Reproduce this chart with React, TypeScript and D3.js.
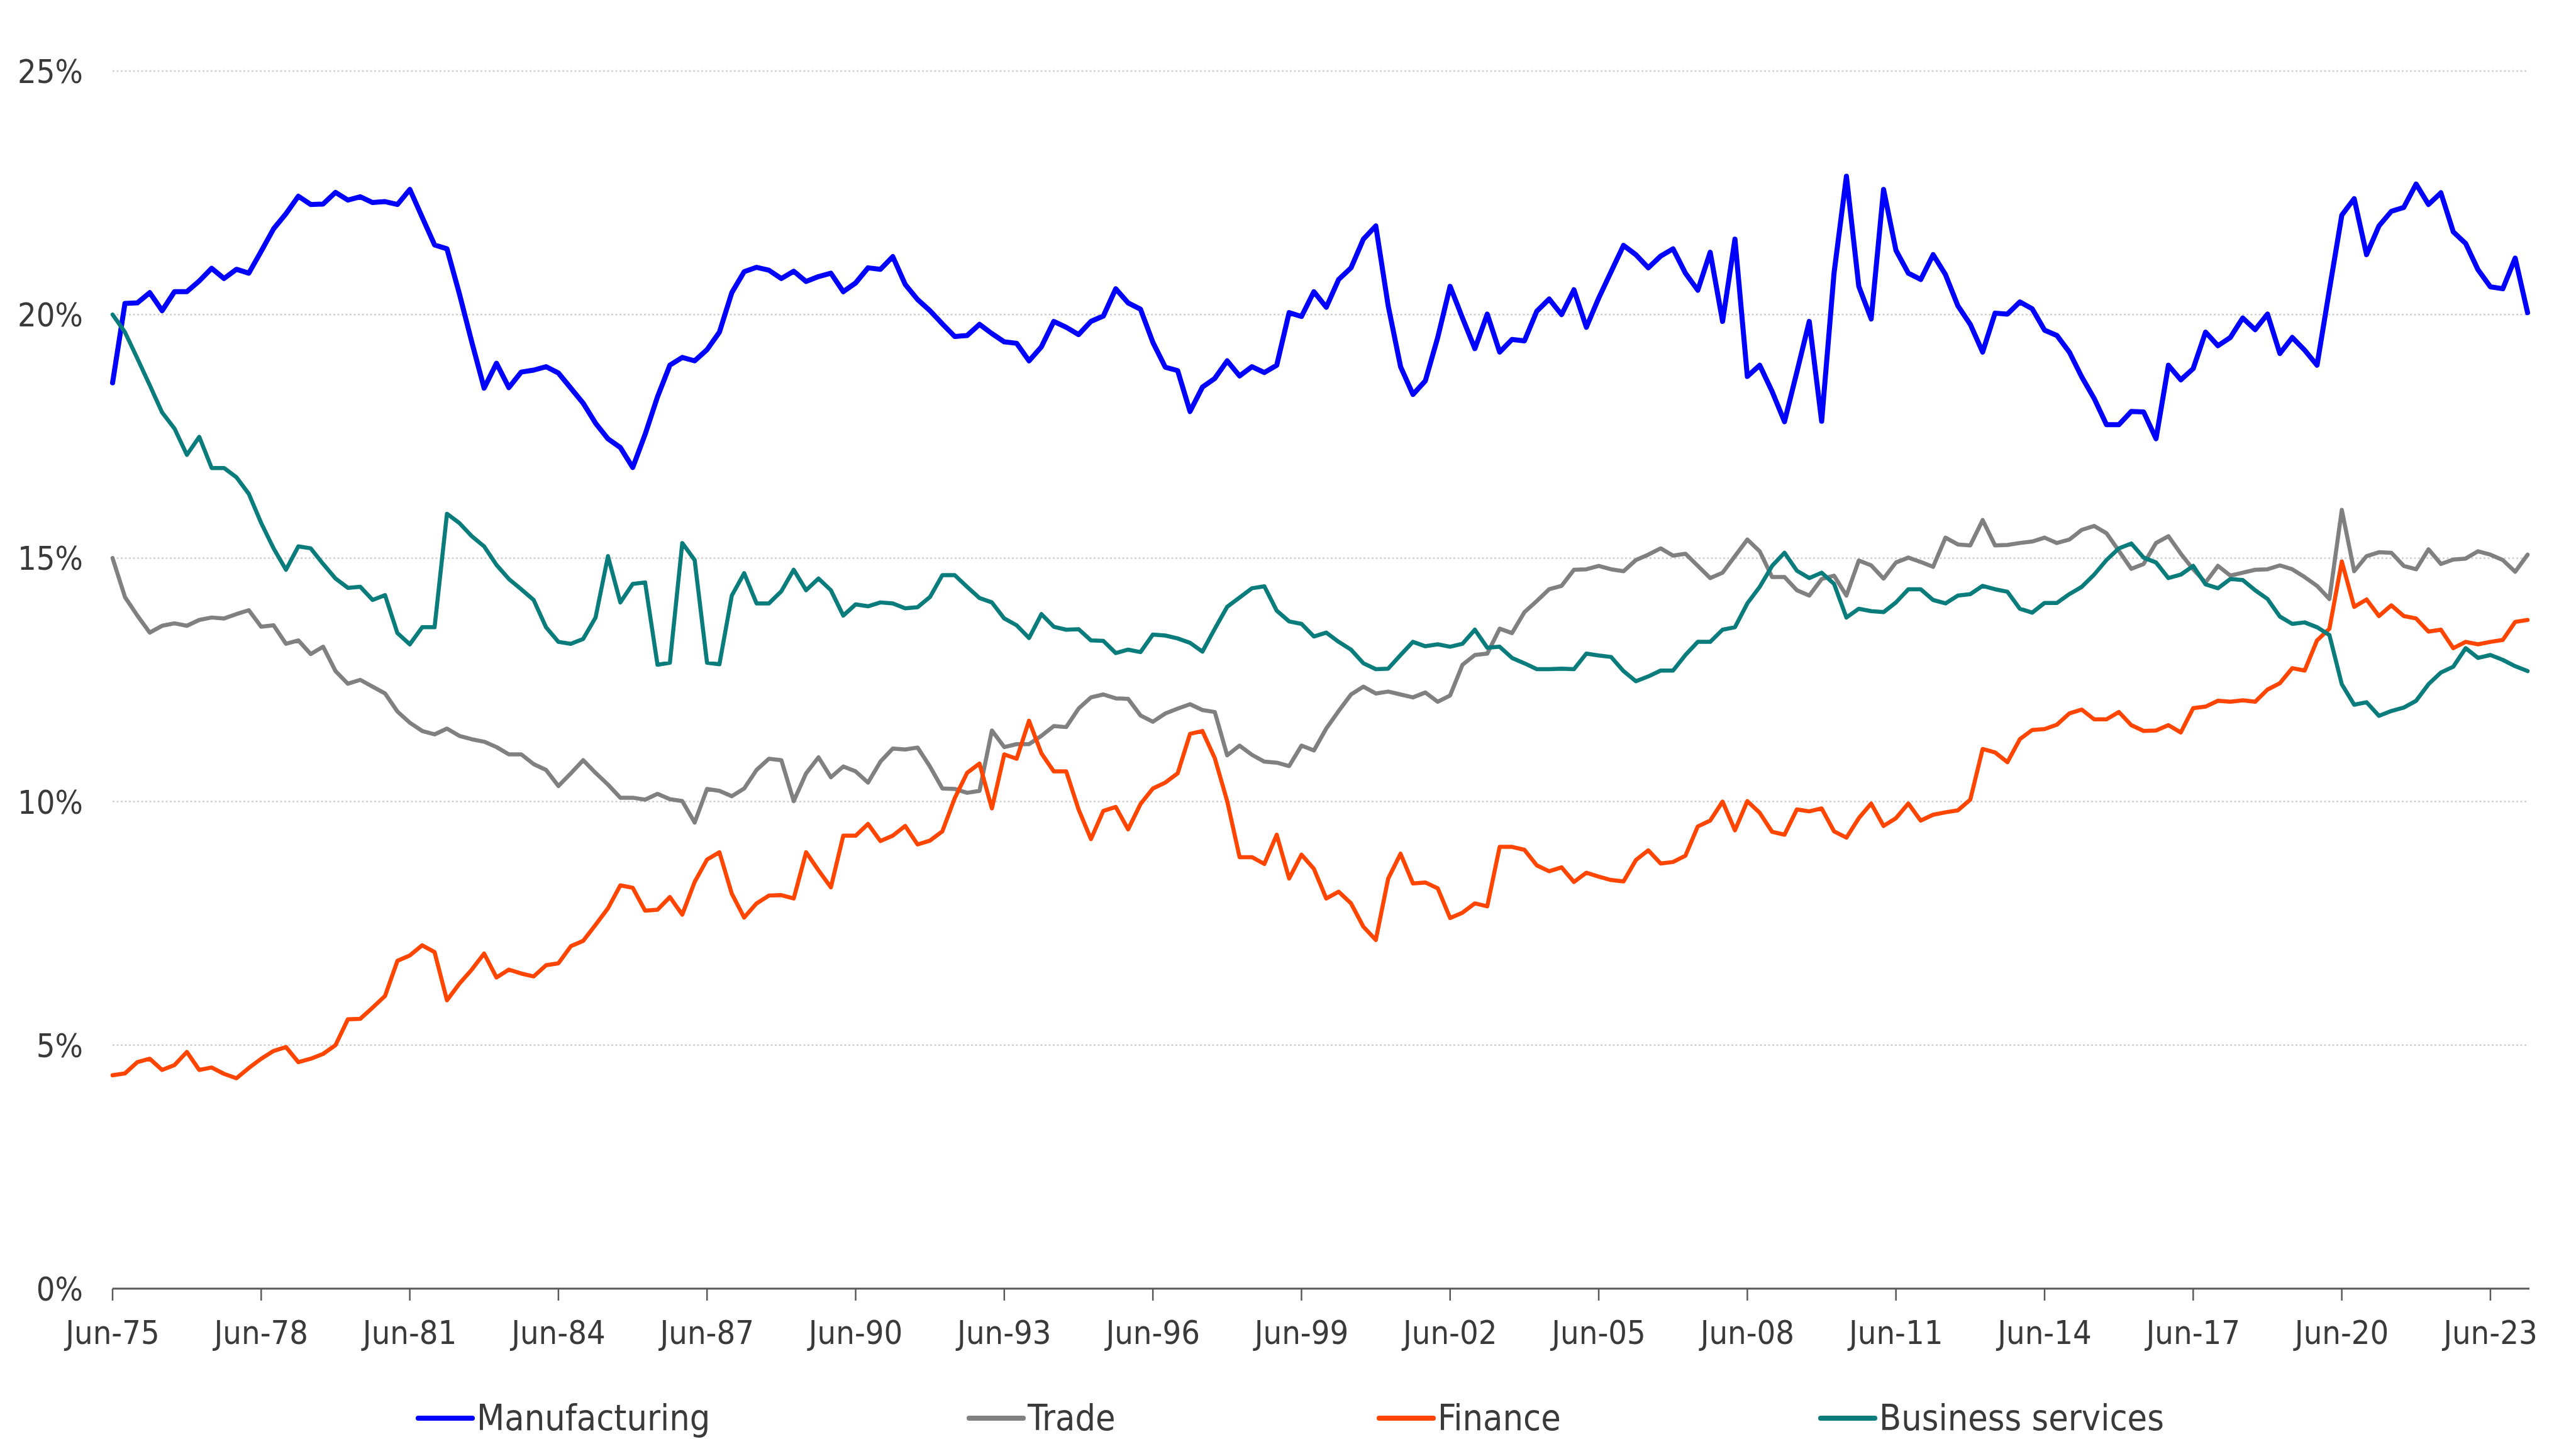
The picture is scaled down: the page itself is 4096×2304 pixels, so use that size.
import React from "react";
import * as d3 from "d3";

// Quarterly observations, Jun-75 … Mar-24 (196 quarters), share of total (%)
const tickLabels = [
  "Jun-75", "Jun-78", "Jun-81", "Jun-84", "Jun-87", "Jun-90", "Jun-93", "Jun-96", "Jun-99",
  "Jun-02", "Jun-05", "Jun-08", "Jun-11", "Jun-14", "Jun-17", "Jun-20", "Jun-23",
];
const yTicks = [0, 5, 10, 15, 20, 25];

const manufacturing = [
  18.6, 20.23, 20.24, 20.45, 20.08, 20.47, 20.47, 20.69, 20.95, 20.74, 20.93, 20.85, 21.3, 21.76, 22.07, 22.43,
  22.26, 22.27, 22.51, 22.35, 22.42, 22.3, 22.32, 22.26, 22.57, 22.0, 21.43, 21.35, 20.43, 19.44, 18.49, 19.0,
  18.5, 18.82, 18.86, 18.93, 18.8, 18.49, 18.18, 17.77, 17.45, 17.27, 16.86, 17.54, 18.31, 18.96, 19.12, 19.05,
  19.28, 19.64, 20.45, 20.88, 20.97, 20.91, 20.74, 20.89, 20.68, 20.78, 20.85, 20.47, 20.65, 20.96, 20.93, 21.19,
  20.62, 20.31, 20.08, 19.81, 19.55, 19.57, 19.8, 19.61, 19.44, 19.41, 19.05, 19.34, 19.86, 19.74, 19.59, 19.86,
  19.97, 20.53, 20.24, 20.11, 19.43, 18.92, 18.85, 18.01, 18.51, 18.69, 19.05, 18.74, 18.93, 18.81, 18.96, 20.04,
  19.96, 20.47, 20.15, 20.72, 20.96, 21.55, 21.82, 20.18, 18.93, 18.36, 18.64, 19.53, 20.58, 19.93, 19.3, 20.01,
  19.23, 19.49, 19.46, 20.07, 20.32, 20.0, 20.51, 19.74, 20.34, 20.88, 21.42, 21.23, 20.96, 21.2, 21.35, 20.85,
  20.5, 21.28, 19.86, 21.55, 18.73, 18.96, 18.42, 17.8, 18.82, 19.86, 17.81, 20.85, 22.84, 20.58, 19.91, 22.57,
  21.32, 20.85, 20.72, 21.23, 20.82, 20.18, 19.8, 19.23, 20.03, 20.01, 20.26, 20.12, 19.68, 19.57, 19.23, 18.72,
  18.28, 17.74, 17.74, 18.01, 18.0, 17.45, 18.96, 18.66, 18.89, 19.64, 19.36, 19.53, 19.93, 19.69, 20.01, 19.2,
  19.53, 19.27, 18.96, 20.51, 22.04, 22.38, 21.23, 21.82, 22.12, 22.2, 22.68, 22.26, 22.5, 21.7, 21.46, 20.92,
  20.57, 20.53, 21.16, 20.04,
];

const trade = [
  15.0, 14.2, 13.82, 13.47, 13.61, 13.66, 13.61, 13.73, 13.78, 13.76, 13.85, 13.93, 13.59, 13.62, 13.24, 13.31,
  13.03, 13.18, 12.68, 12.42, 12.5, 12.36, 12.22, 11.85, 11.62, 11.45, 11.38, 11.5, 11.35, 11.28, 11.23, 11.12,
  10.97, 10.97, 10.77, 10.65, 10.32, 10.58, 10.85, 10.59, 10.35, 10.08, 10.08, 10.04, 10.16, 10.05, 10.01, 9.57,
  10.26, 10.22, 10.11, 10.27, 10.65, 10.88, 10.85, 10.01, 10.58, 10.91, 10.5, 10.72, 10.62, 10.39, 10.82, 11.09,
  11.07, 11.11, 10.72, 10.27, 10.26, 10.18, 10.22, 11.46, 11.12, 11.18, 11.18, 11.35, 11.55, 11.53, 11.91, 12.14,
  12.2, 12.12, 12.11, 11.77, 11.64, 11.81, 11.91, 12.0, 11.88, 11.84, 10.95, 11.15, 10.96, 10.82, 10.8, 10.73,
  11.15, 11.05, 11.5, 11.86, 12.2, 12.36, 12.22, 12.26, 12.2, 12.14, 12.24, 12.05, 12.18, 12.81, 13.01, 13.04,
  13.55, 13.46, 13.89, 14.12, 14.36, 14.43, 14.76, 14.77, 14.84, 14.77, 14.73, 14.96, 15.07, 15.2, 15.05, 15.09,
  14.84, 14.59, 14.7, 15.04, 15.38, 15.14, 14.61, 14.61, 14.34, 14.23, 14.57, 14.64, 14.23, 14.95, 14.85, 14.58,
  14.91, 15.01, 14.92, 14.82, 15.42, 15.28, 15.26, 15.78, 15.26, 15.27, 15.31, 15.34, 15.42, 15.31, 15.38, 15.58,
  15.66, 15.51, 15.15, 14.78, 14.88, 15.31, 15.45, 15.09, 14.77, 14.5, 14.84, 14.64, 14.7, 14.76, 14.77, 14.85,
  14.77, 14.61, 14.43, 14.16, 15.99, 14.73, 15.04, 15.12, 15.11, 14.84, 14.77, 15.18, 14.88, 14.97, 14.99, 15.14,
  15.07, 14.96, 14.72, 15.07,
];

const finance = [
  4.38, 4.42, 4.65, 4.72, 4.49, 4.59, 4.86, 4.49, 4.54, 4.41, 4.32, 4.53, 4.72, 4.88, 4.96, 4.65,
  4.72, 4.82, 5.0, 5.53, 5.54, 5.77, 6.01, 6.73, 6.84, 7.05, 6.91, 5.92, 6.26, 6.55, 6.88, 6.39,
  6.55, 6.47, 6.41, 6.64, 6.68, 7.03, 7.14, 7.47, 7.81, 8.28, 8.23, 7.76, 7.78, 8.04, 7.68, 8.35,
  8.81, 8.96, 8.11, 7.62, 7.91, 8.07, 8.08, 8.01, 8.96, 8.59, 8.24, 9.3, 9.3, 9.54, 9.19, 9.3,
  9.5, 9.12, 9.2, 9.39, 10.07, 10.59, 10.78, 9.86, 10.97, 10.88, 11.66, 10.99, 10.62, 10.62, 9.84, 9.23,
  9.81, 9.89, 9.43, 9.95, 10.27, 10.39, 10.58, 11.39, 11.45, 10.89, 10.01, 8.86, 8.86, 8.72, 9.32, 8.42,
  8.91, 8.62, 8.01, 8.15, 7.91, 7.43, 7.16, 8.42, 8.93, 8.32, 8.34, 8.22, 7.61, 7.72, 7.91, 7.85,
  9.07, 9.07, 9.01, 8.69, 8.57, 8.65, 8.35, 8.54, 8.46, 8.39, 8.36, 8.8, 9.0, 8.73, 8.76, 8.89,
  9.49, 9.61, 10.0, 9.41, 10.01, 9.77, 9.38, 9.32, 9.84, 9.8, 9.86, 9.39, 9.26, 9.66, 9.96, 9.5,
  9.66, 9.96, 9.61, 9.73, 9.78, 9.82, 10.04, 11.08, 11.01, 10.81, 11.28, 11.47, 11.49, 11.58, 11.81, 11.89,
  11.69, 11.69, 11.84, 11.57, 11.45, 11.46, 11.57, 11.42, 11.92, 11.95, 12.07, 12.05, 12.08, 12.05, 12.3, 12.43,
  12.74, 12.69, 13.31, 13.55, 14.93, 14.0, 14.15, 13.81, 14.03, 13.81, 13.76, 13.49, 13.53, 13.15, 13.28, 13.23,
  13.28, 13.32, 13.69, 13.73,
];

const businessServices = [
  20.0, 19.64, 19.1, 18.55, 17.99, 17.66, 17.12, 17.49, 16.85, 16.85, 16.66, 16.32, 15.72, 15.2, 14.76, 15.24,
  15.2, 14.88, 14.58, 14.39, 14.41, 14.14, 14.24, 13.46, 13.23, 13.58, 13.58, 15.91, 15.72, 15.45, 15.24, 14.86,
  14.57, 14.36, 14.14, 13.58, 13.28, 13.24, 13.34, 13.78, 15.04, 14.09, 14.47, 14.5, 12.81, 12.85, 15.31, 14.96,
  12.85, 12.82, 14.23, 14.69, 14.07, 14.07, 14.32, 14.76, 14.34, 14.58, 14.34, 13.82, 14.05, 14.01, 14.09, 14.07,
  13.97, 13.99, 14.2, 14.65, 14.65, 14.41, 14.18, 14.09, 13.76, 13.62, 13.36, 13.85, 13.59, 13.53, 13.54, 13.31,
  13.3, 13.05, 13.12, 13.07, 13.43, 13.41, 13.35, 13.26, 13.08, 13.55, 14.0, 14.19, 14.38, 14.42, 13.92, 13.7,
  13.65, 13.39, 13.47, 13.28, 13.12, 12.84, 12.72, 12.73, 13.01, 13.28, 13.19, 13.23, 13.18, 13.24, 13.53, 13.16,
  13.18, 12.95, 12.84, 12.72, 12.72, 12.73, 12.72, 13.04, 13.0, 12.97, 12.68, 12.47, 12.57, 12.69, 12.69, 13.01,
  13.28, 13.28, 13.53, 13.58, 14.07, 14.41, 14.84, 15.11, 14.74, 14.59, 14.7, 14.47, 13.78, 13.96, 13.91, 13.89,
  14.09, 14.36, 14.36, 14.14, 14.07, 14.23, 14.26, 14.43, 14.36, 14.31, 13.96, 13.88, 14.08, 14.08, 14.26, 14.41,
  14.66, 14.96, 15.2, 15.3, 15.01, 14.91, 14.59, 14.66, 14.84, 14.46, 14.38, 14.57, 14.55, 14.34, 14.16, 13.8,
  13.65, 13.68, 13.58, 13.42, 12.41, 11.99, 12.04, 11.76, 11.86, 11.93, 12.07, 12.41, 12.65, 12.77, 13.15, 12.95,
  13.01, 12.91, 12.78, 12.68,
];

const seriesNames = ["Manufacturing", "Trade", "Finance", "Business services"];
const seriesColors = ["#0000ff", "#808080", "#ff4500", "#0a7c7c"];
const seriesWidths = [8, 6.5, 6.5, 6.5];

const W = 4096;
const H = 2304;
const X0 = 179;
const X1 = 4019;
const Y_TOP = 113;
const Y_BOT = 2049;
const FONT = "'DejaVu Sans Condensed', 'DejaVu Sans', Verdana, sans-serif";
const TEXT = "#3a3a3a";

export default function App() {
  const data = [manufacturing, trade, finance, businessServices];
  const n = manufacturing.length;
  const x = d3.scaleLinear().domain([0, n - 1]).range([X0, X1]);
  const y = d3.scaleLinear().domain([0, 25]).range([Y_BOT, Y_TOP]);
  const line = d3
    .line<number>()
    .x((_, i) => x(i))
    .y((v) => y(v))
    .curve(d3.curveLinear);

  const legendLineX = [665, 1541, 2193, 2895];
  const legendY = 2255;

  return (
    <svg
      width={W}
      height={H}
      viewBox={`0 0 ${W} ${H}`}
      style={{ position: "absolute", left: 0, top: 0, background: "#fff" }}
      fontFamily={FONT}
    >
      <rect x={0} y={0} width={W} height={H} fill="#ffffff" />
      {/* gridlines */}
      {yTicks
        .filter((t) => t > 0)
        .map((t) => (
          <line
            key={`g${t}`}
            x1={X0}
            x2={X1}
            y1={y(t)}
            y2={y(t)}
            stroke="#cfcfcf"
            strokeWidth={2.5}
            strokeDasharray="3 3.5"
          />
        ))}
      {/* y labels */}
      {yTicks.map((t) => (
        <text
          key={`yl${t}`}
          x={132}
          y={y(t) + 19}
          textAnchor="end"
          fontSize={52}
          fill={TEXT}
        >
          {`${t}%`}
        </text>
      ))}
      {/* series */}
      {data.map((s, i) => (
        <path
          key={seriesNames[i]}
          d={line(s) || ""}
          fill="none"
          stroke={seriesColors[i]}
          strokeWidth={seriesWidths[i]}
          strokeLinejoin="round"
          strokeLinecap="round"
        />
      ))}
      {/* x axis */}
      <line x1={X0} x2={X1 + 3} y1={Y_BOT} y2={Y_BOT} stroke="#595959" strokeWidth={3} />
      {tickLabels.map((lab, j) => {
        const tx = x(j * 12);
        return (
          <g key={lab}>
            <line x1={tx} x2={tx} y1={Y_BOT} y2={Y_BOT + 19} stroke="#595959" strokeWidth={2.5} />
            <text x={tx} y={2137} textAnchor="middle" fontSize={52} fill={TEXT}>
              {lab}
            </text>
          </g>
        );
      })}
      {/* legend */}
      {seriesNames.map((nm, i) => (
        <g key={`lg${nm}`}>
          <line
            x1={legendLineX[i]}
            x2={legendLineX[i] + 86}
            y1={legendY}
            y2={legendY}
            stroke={seriesColors[i]}
            strokeWidth={8}
            strokeLinecap="round"
          />
          <text x={legendLineX[i] + 93} y={2274} fontSize={57} fill={TEXT}>
            {nm}
          </text>
        </g>
      ))}
    </svg>
  );
}
